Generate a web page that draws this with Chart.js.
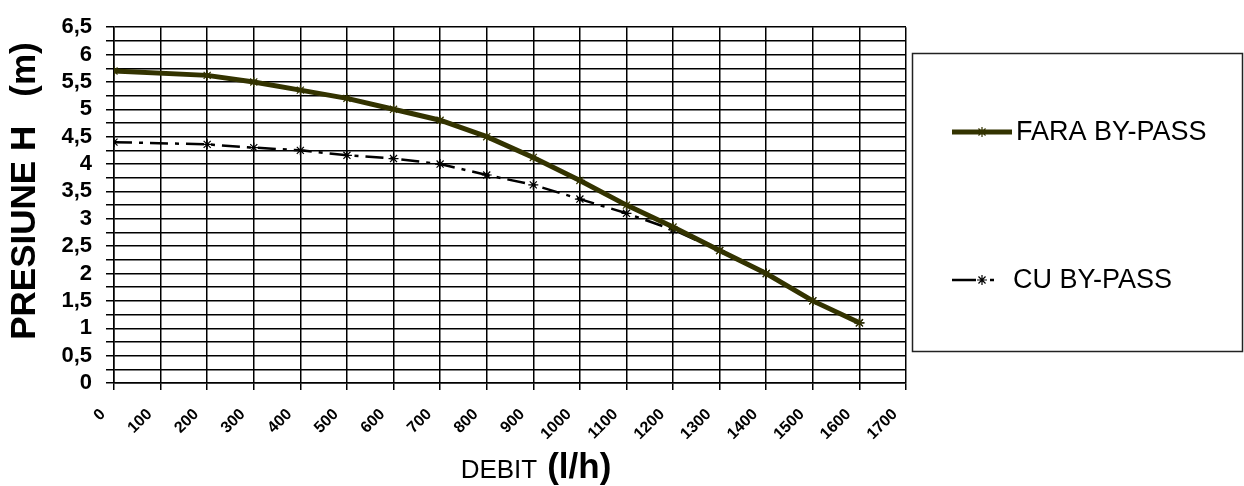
<!DOCTYPE html>
<html>
<head>
<meta charset="utf-8">
<script src="https://cdn.jsdelivr.net/npm/chart.js@4/dist/chart.umd.min.js"></script>
<style>
  body { margin: 0; background: #fff; }
  #wrap { width: 1244px; height: 486px; }
</style>
</head>
<body>
<div id="wrap"><canvas id="myChart" width="1244" height="486"></canvas></div>
<script>
"use strict";

// debit (l/h) of each measured point
const debit = [0, 200, 300, 400, 500, 600, 700, 800, 900, 1000, 1100, 1200, 1300, 1400, 1500, 1600];
// presiune H (m)
const faraBypass = [5.7, 5.62, 5.5, 5.35, 5.2, 5.0, 4.8, 4.5, 4.12, 3.7, 3.25, 2.85, 2.42, 2.0, 1.5, 1.1];
const cuBypass = [4.4, 4.36, 4.3, 4.25, 4.16, 4.1, 4.0, 3.8, 3.62, 3.36, 3.1, 2.8, 2.42, 2.0, 1.5, 1.1];

const seriesNames = ["FARA BY-PASS", "CU BY-PASS"];

// axis ranges
const xMin = 0, xMax = 1700, xStep = 100;
const yMin = 0, yMax = 6.5, yStep = 0.25, yLabelStep = 0.5;

const FONT = 'Arial, "Liberation Sans", sans-serif';

const toPoints = (ys) => debit.map((x, i) => ({ x: x, y: ys[i] }));

// small star marker, used in the legend
function drawStar(ctx, x, y, r, color) {
  ctx.save();
  ctx.strokeStyle = color;
  ctx.lineWidth = 1.2;
  ctx.setLineDash([]);
  ctx.beginPath();
  for (let a = 0; a < 4; a++) {
    const ang = (a * Math.PI) / 4;
    ctx.moveTo(x - r * Math.cos(ang), y - r * Math.sin(ang));
    ctx.lineTo(x + r * Math.cos(ang), y + r * Math.sin(ang));
  }
  ctx.stroke();
  ctx.restore();
}

// titles + boxed legend
const extras = {
  id: "extras",
  afterDraw(chart) {
    const ctx = chart.ctx;

    // y title
    ctx.save();
    ctx.fillStyle = "#000";
    ctx.translate(25, 191);
    ctx.rotate(-Math.PI / 2);
    ctx.font = "bold 35px " + FONT;
    ctx.textAlign = "center";
    ctx.textBaseline = "middle";
    ctx.fillText("PRESIUNE H   (m)", 0, 0);
    ctx.restore();

    // x title
    ctx.save();
    ctx.fillStyle = "#000";
    ctx.textBaseline = "alphabetic";
    ctx.textAlign = "left";
    ctx.font = "26px " + FONT;
    const w1 = ctx.measureText("DEBIT").width;
    ctx.font = "bold 35px " + FONT;
    const w2 = ctx.measureText("(l/h)").width;
    const gap = 12;
    const start = 535 - (w1 + gap + w2) / 2;
    ctx.font = "26px " + FONT;
    ctx.fillText("DEBIT", start + 2, 478);
    ctx.font = "bold 35px " + FONT;
    ctx.fillText("(l/h)", start + w1 + gap, 478);
    ctx.restore();

    // legend box
    ctx.save();
    ctx.strokeStyle = "#222";
    ctx.lineWidth = 1.5;
    ctx.strokeRect(912.5, 53.5, 330, 298);

    const rows = [132, 280];
    chart.data.datasets.forEach((ds, i) => {
      const y = rows[i];
      const end = i === 0 ? 1012 : 996;
      ctx.strokeStyle = ds.borderColor;
      ctx.lineWidth = ds.borderWidth;
      ctx.setLineDash(ds.borderDash ? [24, 14, 4, 7] : []);
      ctx.beginPath();
      ctx.moveTo(952, y);
      ctx.lineTo(end, y);
      ctx.stroke();
      drawStar(ctx, 982, y, 5, ds.pointBorderColor);
      ctx.fillStyle = "#000";
      ctx.font = "27px " + FONT;
      ctx.textAlign = "left";
      ctx.textBaseline = "middle";
      ctx.fillText(ds.label, i === 0 ? 1016 : 1013, y + 1);
    });
    ctx.restore();
  },
};

const data = {
  datasets: [
    {
      label: seriesNames[0],
      data: toPoints(faraBypass),
      borderColor: "#333300",
      backgroundColor: "#333300",
      borderWidth: 5,
      pointStyle: "star",
      pointRadius: 5,
      pointBorderColor: "#333300",
      pointBorderWidth: 1.2,
      tension: 0,
    },
    {
      label: seriesNames[1],
      data: toPoints(cuBypass),
      borderColor: "#000",
      backgroundColor: "#000",
      borderWidth: 2.5,
      borderDash: [18, 7, 4, 7],
      pointStyle: "star",
      pointRadius: 5,
      pointBorderColor: "#000",
      pointBorderWidth: 1.2,
      tension: 0,
    },
  ],
};

const config = {
  type: "line",
  data: data,
  options: {
    responsive: false,
    animation: false,
    layout: { padding: { left: 0, top: 24, right: 338, bottom: 0 } },
    plugins: {
      legend: { display: false },
      title: { display: false },
      tooltip: { enabled: false },
    },
    scales: {
      x: {
        type: "linear",
        min: xMin,
        max: xMax,
        afterFit: (scale) => { scale.height = 103; },
        grid: { color: "#000", lineWidth: 1.5, tickLength: 7, drawTicks: true },
        border: { display: true, color: "#000", width: 1.5 },
        ticks: {
          stepSize: xStep,
          autoSkip: false,
          minRotation: 45,
          maxRotation: 45,
          padding: 15,
          labelOffset: -11,
          color: "#000",
          font: { family: FONT, size: 16, weight: "bold" },
          callback: (v) => String(v),
        },
      },
      y: {
        min: yMin,
        max: yMax,
        afterFit: (scale) => { scale.width = 114; },
        grid: { color: "#000", lineWidth: 1.5, tickLength: 8, drawTicks: true },
        border: { display: true, color: "#000", width: 1.5 },
        ticks: {
          stepSize: yStep,
          autoSkip: false,
          padding: 14,
          color: "#000",
          font: { family: FONT, size: 22, weight: "bold" },
          callback: (v) => {
            const k = v / yLabelStep;
            if (Math.abs(k - Math.round(k)) > 1e-6) return "";
            return String(Math.round(v * 100) / 100).replace(".", ",");
          },
        },
      },
    },
  },
  plugins: [extras],
};

var myChart = new Chart(document.getElementById("myChart"), config);
</script>
</body>
</html>
